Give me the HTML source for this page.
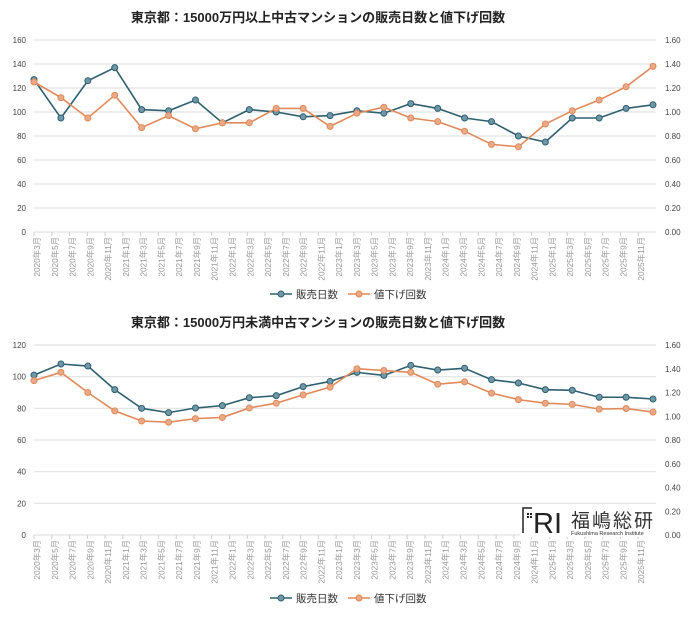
<!DOCTYPE html>
<html><head><meta charset="utf-8"><style>
body{margin:0;background:#fff;width:700px;height:619px;overflow:hidden}
svg{display:block;font-family:"Liberation Sans","Noto Sans CJK JP",sans-serif}
</style></head><body>
<svg id="c" width="700" height="619"></svg>
<script>
const labels=[];for(let y=2020;y<=2025;y++){for(const m of [1,3,5,7,9,11]){if(y===2020&&m<3)continue;labels.push(y+"年"+m+"月");}}
const topDays=[127,95,126,137,102,101,110,91,102,100,96,97,101,99,107,103,95,92,80,75,95,95,103,106];
const topCuts=[1.25,1.12,0.95,1.14,0.87,0.97,0.86,0.91,0.91,1.03,1.03,0.88,0.99,1.04,0.95,0.92,0.84,0.73,0.71,0.90,1.01,1.10,1.21,1.38];
const botDays=[101,108,106.7,91.8,80,77.3,80.2,81.7,86.7,88,93.7,97,102.7,100.8,107.1,104.2,105.3,98.1,96,91.8,91.4,87,87,85.9];
const botCuts=[1.30,1.37,1.20,1.045,0.96,0.95,0.98,0.99,1.07,1.11,1.18,1.245,1.40,1.385,1.37,1.27,1.29,1.195,1.14,1.11,1.10,1.06,1.065,1.035];
const leftTicksTop=[0,20,40,60,80,100,120,140,160];
const rightTicks=["0.00","0.20","0.40","0.60","0.80","1.00","1.20","1.40","1.60"];
const leftTicksBot=[0,20,40,60,80,100,120];
const NS="http://www.w3.org/2000/svg",svg=document.getElementById('c');
function el(t,a,p){const e=document.createElementNS(NS,t);for(const k in a)e.setAttribute(k,a[k]);(p||svg).appendChild(e);return e;}
const X0=34,X1=656,BLUE="#2e5f6e",ORG="#e0895a";
function chart(g,title,titleY,yTop,yBot,lmax,lticks,days,cuts,legY){
  const grp=el('g',{});
  const t=el('text',{x:318,y:titleY,'text-anchor':'middle','font-size':13,'font-weight':'bold',fill:'#222'},grp);t.textContent=title;
  
  const yl=v=>yBot-(v/lmax)*(yBot-yTop), yr=v=>yBot-(v/1.6)*(yBot-yTop);
  lticks.forEach(v=>{el('line',{x1:X0,x2:X1,y1:yl(v),y2:yl(v),stroke:'#e2e2e2','stroke-width':1.2},grp);
    const tx=el('text',{x:26,y:yl(v)+3,'text-anchor':'end','font-size':8,fill:'#444'},grp);tx.textContent=v;
    });
  rightTicks.forEach((s,i)=>{const tx=el('text',{x:665,y:yr(i*0.2)+3,'font-size':8,fill:'#444'},grp);tx.textContent=s;
    });
  const n=labels.length,step=(X1-X0)/n;
  labels.forEach((s,i)=>{const x=X0+step*i+3;
    el('line',{x1:X0+step*i,x2:X0+step*i,y1:yBot,y2:yBot+4,stroke:'#ccc'},grp);
    const tx=el('text',{transform:`translate(${x+3},${yBot+5}) rotate(-90)`,'text-anchor':'end','font-size':8.3,fill:'#999'},grp);tx.textContent=s;
    });
  const m=days.length,xs=i=>X0+(X1-3-X0)*i/(m-1);
  [[days,yl,BLUE,'series-days','#6f97a8'],[cuts,yr,ORG,'series-price-cuts','#eaa987']].forEach(([d,f,c,nm,fc])=>{
    const pts=d.map((v,i)=>xs(i)+','+f(v)).join(' ');
    const pl=el('polyline',{points:pts,fill:'none',stroke:c,'stroke-width':1.6},grp);
    
    d.forEach((v,i)=>{const ci=el('circle',{cx:xs(i),cy:f(v),r:3,fill:fc,stroke:c,'stroke-width':1},grp);
      });
  });
  [[270,BLUE,'#6f97a8','販売日数','legend-days'],[348,ORG,'#eaa987','値下げ回数','legend-price-cuts']].forEach(([x,c,fc,s,nm])=>{
    const lg=el('g',{},grp);
    el('line',{x1:x,x2:x+22,y1:legY,y2:legY,stroke:c,'stroke-width':1.6},lg);
    el('circle',{cx:x+11,cy:legY,r:3,fill:fc,stroke:c},lg);
    const tx=el('text',{x:x+26,y:legY+4,'font-size':10.5,fill:'#333'},lg);tx.textContent=s;});
}
chart('top-chart','東京都：15000万円以上中古マンションの販売日数と値下げ回数',22,40,232,160,leftTicksTop,topDays,topCuts,294);
chart('bottom-chart','東京都：15000万円未満中古マンションの販売日数と値下げ回数',327,345,535,120,leftTicksBot,botDays,botCuts,598);
const lg=el('g',{});
el('rect',{x:520,y:505,width:138,height:32,fill:'#fff'},lg);
el('path',{d:'M523 533 V508 H532',stroke:'#222',fill:'none','stroke-width':1.5},lg);
[[527,513],[530,513],[527,516],[530,516]].forEach(([x,y])=>el('rect',{x,y,width:2,height:2,fill:'#222'},lg));
const r=el('text',{x:533,y:533,'font-size':29,fill:'#222','font-family':'Liberation Sans, sans-serif'},lg);r.textContent='RI';
const k=el('text',{x:571,y:527,'font-size':19,fill:'#333','letter-spacing':2},lg);k.textContent='福嶋総研';
const f=el('text',{x:571,y:535,'font-size':5.5,fill:'#333'},lg);f.textContent='Fukushima Research Institute';
</script>
</body></html>
